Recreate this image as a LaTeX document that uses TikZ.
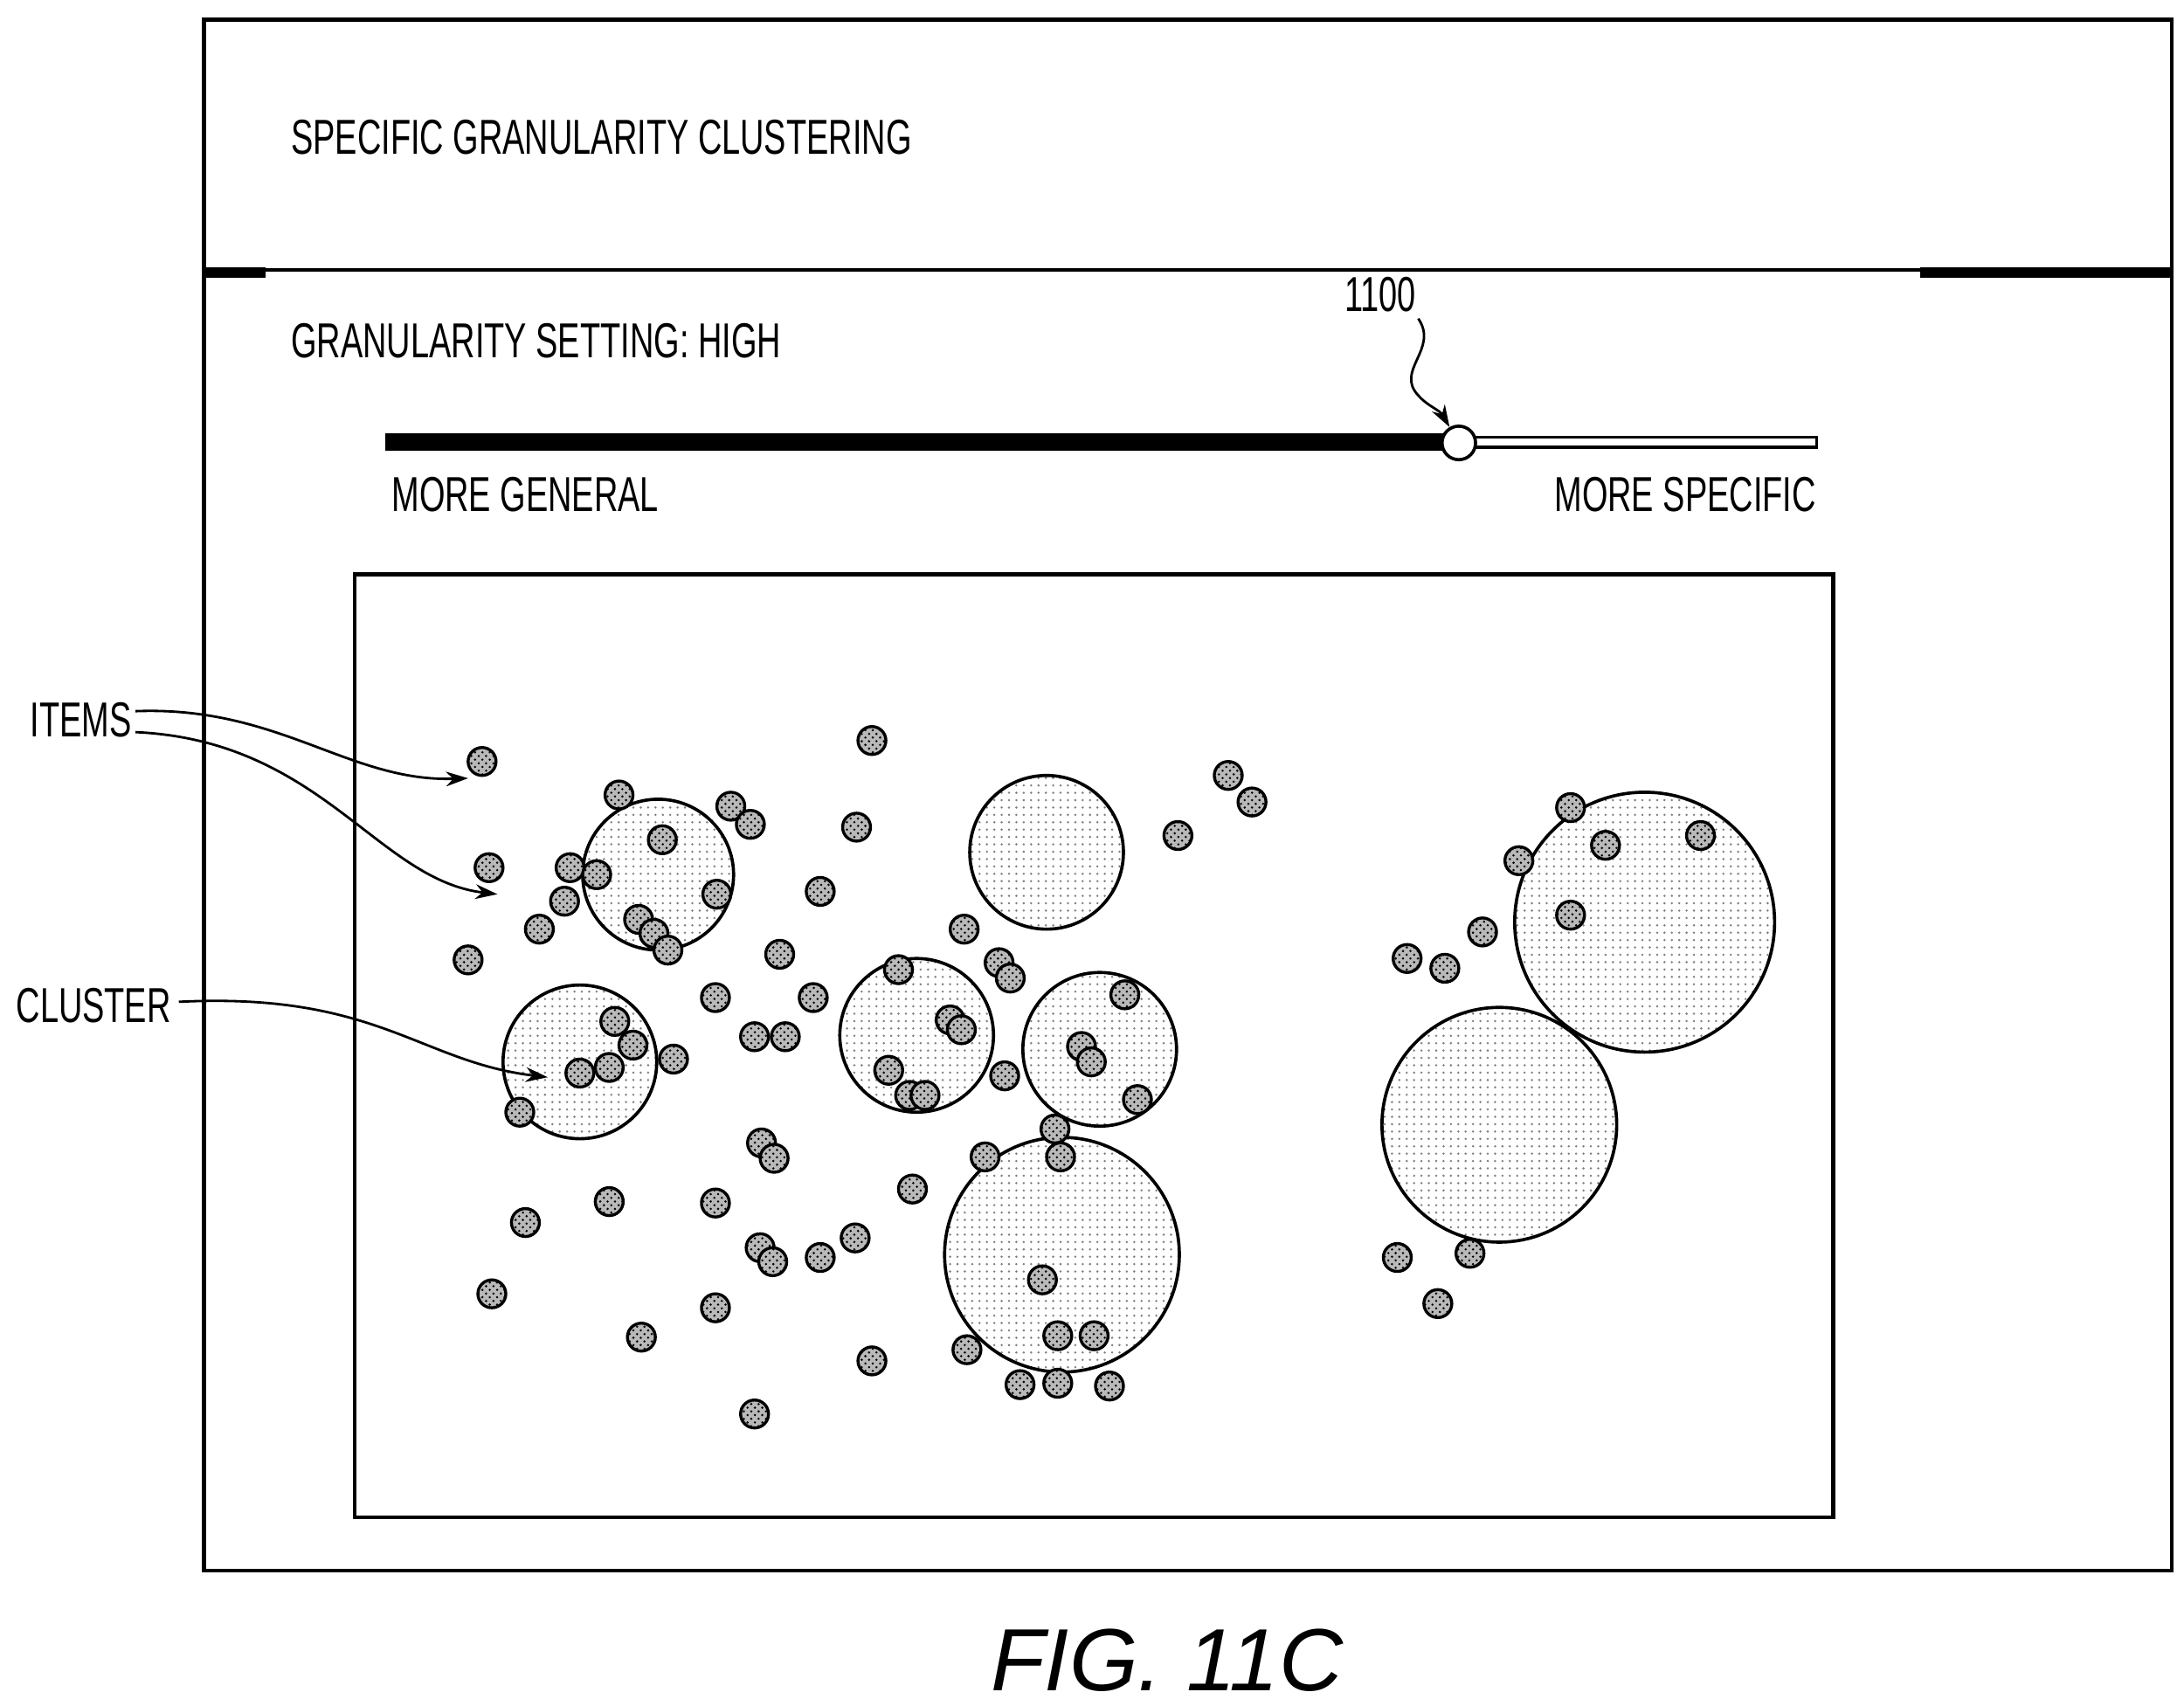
\documentclass[tikz,border=0pt]{standalone}
\usepackage{fontspec}
\setmainfont{Liberation Sans}
\usetikzlibrary{patterns,arrows.meta}
\newcommand{\lbl}[1]{\scalebox{0.675}[1]{\fontsize{20}{22}\selectfont #1}}
\begin{document}
\begin{tikzpicture}[x=0.02cm,y=-0.02cm,
 item/.style={draw=black,line width=1.2pt,pattern=crosshatch dots,pattern color=black},
 clus/.style={draw=black,line width=1.3pt,pattern=dots,pattern color=gray},
 txt/.style={inner sep=0pt,anchor=west},
 arr/.style={line width=1pt,-{Stealth[length=9pt,width=6pt]}}]
\useasboundingbox (0,0) rectangle (1563,1221);
\draw[line width=1.5pt] (146,14) rectangle (1554,1124);
\draw[line width=1.3pt] (146,193) -- (1554,193);
\draw[line width=4pt] (146,195) -- (190,195) (1374,195) -- (1554,195);
\node[txt] (title) at (208,98) {\lbl{SPECIFIC GRANULARITY CLUSTERING}};
\node[txt] (gs) at (208,244) {\lbl{GRANULARITY SETTING: HIGH}};
\draw[line width=1.2pt,fill=white] (1043,313) rectangle (1300,320);
\draw[line width=7pt] (276,316.5) -- (1043,316.5);
\node[circle,draw,line width=1.3pt,fill=white,minimum size=0.48cm,inner sep=0] (knob) at (1044,317) {};
\node (num) at (988,211) {\lbl{1100}};
\draw[arr] (1015,228) .. controls (1030,250) and (998,265) .. (1015,283) .. controls (1022,291) and (1030,293) .. (knob);
\node[txt] (mg) at (280,354) {\lbl{MORE GENERAL}};
\node[txt,anchor=east] (ms) at (1300,354) {\lbl{MORE SPECIFIC}};
\draw[line width=1.5pt] (254,411) rectangle (1312,1086);
\foreach \x/\y/\r in {471/626/54,749/610/55,415/760/55,656/741/55,787/751/55,760/898/84,1177/660/93,1073/805/84}{
 \fill[white] (\x,\y) circle[radius=\r];
 \draw[clus] (\x,\y) circle[radius=\r];}
\foreach \x/\y in {345/545,624/530,879/555,896/574,443/569,523/577,537/590,613/592,474/601,843/598,350/621,408/621,427/626,513/640,404/645,587/638,386/665,457/658,468/668,478/680,690/665,335/687,558/683,715/689,723/700,643/694,512/714,582/714,440/731,453/748,482/758,540/742,562/742,680/730,688/737,805/712,774/749,781/760,415/768,436/764,636/766,651/784,662/784,719/770,814/787,372/796,545/818,554/829,755/808,705/828,759/828,653/851,436/860,512/861,376/875,544/893,553/903,587/900,612/886,352/926,512/936,459/957,746/916,757/956,783/956,692/966,624/974,730/991,757/990,794/992,540/1012,1124/578,1149/605,1217/598,1087/616,1124/655,1061/667,1007/686,1034/693,1052/897,1000/900,1029/933}{
 \fill[gray!55] (\x,\y) circle[radius=10];
 \draw[item] (\x,\y) circle[radius=10];}
\node (items) at (58,515) {\lbl{ITEMS}};
\coordinate (i1) at (335,557);
\coordinate (i2) at (356,640);
\coordinate (c1) at (392,771);
\draw[arr] (97,509) .. controls (200,505) and (250,560) .. (i1);
\draw[arr] (97,524) .. controls (230,530) and (270,630) .. (i2);
\node (cl) at (67,720) {\lbl{CLUSTER}};
\draw[arr] (128,717) .. controls (270,710) and (300,760) .. (c1);
\node (fig) at (835,1188) {\fontsize{36}{40}\selectfont\itshape FIG. 11C};
\end{tikzpicture}
\end{document}
